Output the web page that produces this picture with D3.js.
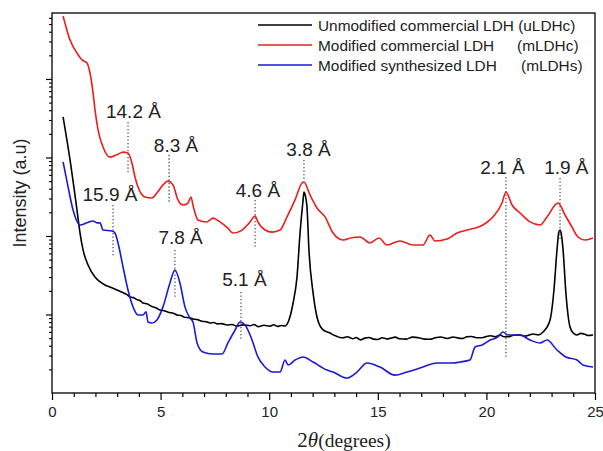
<!DOCTYPE html>
<html><head><meta charset="utf-8">
<script src="https://cdn.jsdelivr.net/npm/d3@7"></script>
<style>
body{margin:0;background:#fff;}
svg{display:block;font-family:"Liberation Sans",Arial,sans-serif;}
</style></head>
<body><svg id="c" width="603" height="451"></svg>
<script>
// 2θ (degrees), intensity (a.u.)
const uLDHc = [[0.51,32800],[0.83,9290],[1.15,2140],[1.29,1090],[1.43,664],[1.66,427],[1.98,300],[2.2,262],[2.44,238],[2.7,222],[2.99,205],[3.15,196],[3.3,188],[3.45,179],[3.59,167],[3.75,164],[3.9,155],[4.05,151],[4.19,140],[4.4,136],[4.6,126],[4.78,122],[4.97,114],[5.2,111],[5.4,106],[5.58,104],[5.76,98.6],[5.95,97],[6.1,92],[6.3,91],[6.49,87.7],[6.7,86],[6.9,82],[7.1,81],[7.27,78.0],[7.45,79],[7.6,76],[7.8,76.5],[8.06,73.5],[8.3,74.5],[8.5,71],[8.8,73.8],[9.12,72],[9.3,74.5],[9.5,70],[9.75,73],[10.04,71],[10.2,74],[10.4,70.5],[10.55,72.5],[10.73,71.4],[10.91,85.1],[11.10,140],[11.28,300],[11.42,1090],[11.56,2880],[11.60,3640],[11.66,3300],[11.74,2340],[11.83,664],[12.02,188],[12.20,92.9],[12.48,63.5],[12.80,58.1],[12.95,55],[13.1,53],[13.25,51],[13.4,50.5],[13.6,52],[13.86,49],[14.0,51],[14.2,47.5],[14.4,50],[14.6,51],[14.8,48.5],[15.0,48],[15.2,50.5],[15.42,48.8],[15.6,50],[15.8,51.5],[16.0,49],[16.3,48.5],[16.6,51.5],[16.94,50.2],[17.15,48.5],[17.4,48.3],[17.65,50.5],[17.9,51.6],[18.2,49.5],[18.46,51.7],[18.7,50],[18.9,49.5],[19.1,52],[19.3,52.5],[19.55,50.5],[19.8,50.5],[20.0,52.5],[20.2,53.5],[20.4,52],[20.63,54.8],[20.8,52],[21.0,52],[21.25,54.5],[21.5,55],[21.8,53],[22.15,56.5],[22.4,55],[22.61,59.8],[22.93,85.1],[23.11,205],[23.25,664],[23.33,1100],[23.39,1190],[23.45,1050],[23.53,664],[23.66,188],[23.85,69.3],[24.0,58],[24.17,54.8],[24.35,57.5],[24.5,56.5],[24.7,54],[24.91,54.8]];
const mLDHc = [[0.51,635000],[0.83,314000],[1.15,214000],[1.38,175000],[1.61,160000],[1.75,119000],[1.89,66400],[1.98,40300],[2.12,22400],[2.35,13600],[2.67,10100],[2.99,10800],[3.27,11700],[3.50,11400],[3.68,8510],[3.82,5650],[3.96,4210],[4.28,3140],[4.60,3050],[4.83,3530],[5.11,4470],[5.34,5020],[5.57,4470],[5.80,2880],[6.03,2480],[6.26,2630],[6.40,3140],[6.49,2480],[6.72,1600],[7.14,1510],[7.41,1690],[7.73,1510],[8.10,1260],[8.33,1090],[8.75,1190],[9.12,1510],[9.35,1800],[9.48,1510],[9.81,1190],[10.13,1120],[10.50,1190],[10.82,1750],[11.19,2880],[11.51,4730],[11.60,4880],[11.88,3330],[12.20,2270],[12.57,1750],[12.94,1090],[13.40,889],[13.8,950],[14.18,971],[14.64,815],[15.06,944],[15.42,768],[16.02,863],[16.62,768],[17.08,768],[17.40,1030],[17.63,863],[18.19,916],[18.65,1090],[19.11,1190],[19.84,1380],[20.30,1750],[20.72,2630],[20.90,3640],[21.18,2480],[21.55,1960],[22.01,1510],[22.47,1380],[22.79,1750],[23.30,2630],[23.62,1850],[23.94,1300],[24.22,971],[24.54,889],[24.91,944]];
const mLDHs = [[0.51,8770],[0.74,4210],[0.97,2140],[1.29,1380],[1.61,1470],[1.89,1550],[2.07,1470],[2.21,1470],[2.35,1190],[2.76,1160],[2.90,1090],[3.04,815],[3.27,403],[3.50,205],[3.73,125],[3.96,98.6],[4.19,98.6],[4.33,108],[4.42,80.2],[4.60,78.0],[4.83,85.1],[5.11,125],[5.43,252],[5.66,369],[5.89,252],[6.12,125],[6.35,90.2],[6.49,80.2],[6.68,43.4],[6.95,33.3],[7.41,31.4],[7.83,31.4],[8.10,43.4],[8.43,63.5],[8.66,80.2],[8.89,73.5],[9.21,47.3],[9.48,28.8],[9.81,21.4],[10.17,18.5],[10.50,18.5],[10.73,26.3],[10.87,22.7],[11.19,26.3],[11.56,28.8],[12.02,24.8],[12.66,19.6],[12.94,18.5],[13.58,15.5],[14.04,18.5],[14.50,24.1],[15.10,21.4],[15.79,16.9],[16.34,18.5],[16.94,20.8],[17.73,24.1],[18.46,24.1],[18.78,24.8],[19.24,26.3],[19.48,38.5],[19.80,40.9],[20.17,47.3],[20.53,51.7],[20.76,59.8],[20.99,54.8],[21.55,54.8],[22.01,47.3],[22.47,43.4],[22.79,47.3],[23.25,35.3],[23.66,28.8],[24.17,26.3],[24.45,22.7],[24.91,21.4]];

const seriesNames = ["Unmodified commercial LDH","Modified commercial LDH","Modified synthesized LDH"];
const seriesCodes = ["(uLDHc)","(mLDHc)","(mLDHs)"];
const seriesColors = ["#000000","#ee1c1c","#1a1ad6"];

// peak annotations: label, line 2θ, line top/bottom intensity, label centre 2θ, label centre intensity
const peakLabels = ["14.2 Å","8.3 Å","15.9 Å","4.6 Å","7.8 Å","5.1 Å","3.8 Å","2.1 Å","1.9 Å"];
const peakX      = [3.50, 5.39, 2.81, 9.35, 5.66, 8.70, 11.60, 20.90, 23.39];
const peakTop    = [28300, 10800, 2480, 2880, 664, 194, 9290, 5650, 5480];
const peakBottom = [6170, 2710, 540, 703, 167, 47.3, 5160, 27.9, 889];
const labelX     = [3.75, 5.71, 2.67, 9.48, 5.92, 8.86, 11.81, 20.74, 23.68];
const labelY     = [38000, 14400, 3330, 3850, 944, 275, 12500, 7350, 7350];

const xTicks = [0,5,10,15,20,25];

const svg = d3.select("#c");
const L=52, R=595, T=13, B=393;
const x = d3.scaleLinear().domain([0,25]).range([L,R]);
const y = d3.scaleLog().domain([10, 692000]).range([B,T]);

// x axis
const minorX = d3.range(0,26,1).filter(v=>v%5!==0);
svg.append("g").attr("transform",`translate(0,${B})`)
  .call(d3.axisBottom(x).tickValues(minorX).tickSize(4).tickFormat(""))
  .call(g=>g.select(".domain").remove())
  .selectAll("line").attr("stroke","#000").attr("stroke-width",1.2);
const gx = svg.append("g").attr("transform",`translate(0,${B})`)
  .call(d3.axisBottom(x).tickValues(xTicks).tickSize(7).tickPadding(6));
gx.select(".domain").remove();
gx.selectAll("line").attr("stroke","#000").attr("stroke-width",1.2);
gx.selectAll("text").attr("font-size",15).attr("fill","#222").attr("font-family","Liberation Sans, Arial, sans-serif");

// y axis (log, no labels)
const majorY = [100,1000,10000,100000];
const minorY = [];
for (let d=10; d<=100000; d*=10) for (let k=2;k<=9;k++){ const v=d*k; if (v<=692000) minorY.push(v); }
svg.append("g").attr("transform",`translate(${L},0)`)
  .call(d3.axisLeft(y).tickValues(minorY).tickSize(3).tickFormat(""))
  .call(g=>g.select(".domain").remove())
  .selectAll("line").attr("stroke","#000").attr("stroke-width",1.1);
svg.append("g").attr("transform",`translate(${L},0)`)
  .call(d3.axisLeft(y).tickValues(majorY).tickSize(6).tickFormat(""))
  .call(g=>g.select(".domain").remove())
  .selectAll("line").attr("stroke","#000").attr("stroke-width",1.2);

// curves
const line = d3.line().x(d=>x(d[0])).y(d=>y(d[1])).curve(d3.curveMonotoneX);
svg.append("clipPath").attr("id","pc").append("rect").attr("x",L).attr("y",T).attr("width",R-L).attr("height",B-T);
[uLDHc, mLDHc, mLDHs].forEach((s,i)=>{
  svg.append("path").datum(s).attr("d",line).attr("fill","none")
    .attr("stroke",seriesColors[i]).attr("stroke-width",1.6).attr("stroke-linejoin","round")
    .attr("clip-path","url(#pc)");
});

// frame
svg.append("rect").attr("x",L).attr("y",T).attr("width",R-L).attr("height",B-T)
  .attr("fill","none").attr("stroke","#000").attr("stroke-width",1.3);

// peak annotations
peakLabels.forEach((lab,i)=>{
  svg.append("line").attr("x1",x(peakX[i])).attr("x2",x(peakX[i]))
    .attr("y1",y(peakTop[i])).attr("y2",y(peakBottom[i]))
    .attr("stroke","#444").attr("stroke-width",1.2).attr("stroke-dasharray","1.3,2.2");
  svg.append("text").attr("x",x(labelX[i])).attr("y",y(labelY[i]))
    .attr("text-anchor","middle").attr("dominant-baseline","central")
    .attr("font-size",19).attr("fill","#222").text(lab);
});

// legend
const legY = [25,45,65];
seriesNames.forEach((n,i)=>{
  svg.append("line").attr("x1",258).attr("x2",312).attr("y1",legY[i]).attr("y2",legY[i])
    .attr("stroke",seriesColors[i]).attr("stroke-width",1.4);
  svg.append("text").attr("x",318).attr("y",legY[i]).attr("dominant-baseline","central")
    .attr("font-size",15.4).attr("fill","#222").text(i===0 ? n+" "+seriesCodes[i] : n);
  if (i>0) svg.append("text").attr("x",i===1?517:521).attr("y",legY[i]).attr("dominant-baseline","central")
    .attr("font-size",15.4).attr("fill","#222").text(seriesCodes[i]);
});

// axis titles
svg.append("text").attr("transform","translate(20,193) rotate(-90)")
  .attr("text-anchor","middle").attr("dominant-baseline","central")
  .attr("font-size",18).attr("fill","#222").text("Intensity (a.u)");
const xt = svg.append("text").attr("x",344).attr("y",447).attr("text-anchor","middle")
  .attr("font-family","Liberation Serif, Times New Roman, serif").attr("fill","#222");
xt.append("tspan").attr("font-size",21).text("2");
xt.append("tspan").attr("font-size",21).attr("font-style","italic").text("θ");
xt.append("tspan").attr("font-size",19.5).text("(degrees)");
</script></body></html>
